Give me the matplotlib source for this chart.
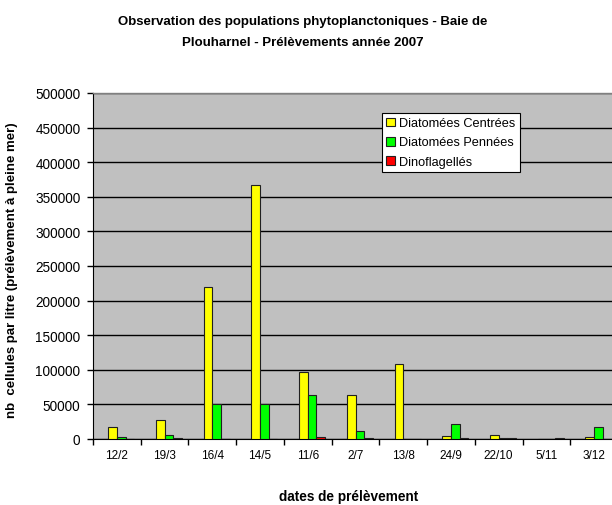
import matplotlib
matplotlib.use("Agg")
import matplotlib.pyplot as plt
import numpy as np

plt.rcParams['font.family'] = ['Liberation Sans', 'DejaVu Sans']

dates = ["12/2", "19/3", "16/4", "14/5", "11/6", "2/7", "13/8", "24/9", "22/10", "5/11", "3/12"]
centrees = [18000, 28000, 220000, 367000, 97000, 63000, 108000, 5000, 6000, 0, 3000]
pennees = [3000, 6000, 50000, 50000, 63000, 12000, 0, 21000, 1000, 0, 18000]
dinoflag = [500, 1500, 0, 0, 2500, 1000, 0, 1500, 1000, 1000, 0]
series_names = ["Diatomées Centrées", "Diatomées Pennées", "Dinoflagellés"]
colors = ["#FFFF00", "#00FF00", "#FF0000"]

fig = plt.figure(figsize=(6.12, 5.06), dpi=100)
ax = fig.add_axes([93/612, 66/506, 525/612, 346/506])
ax.set_facecolor("#C0C0C0")

x = np.arange(len(dates))
w = 1/5.5
offsets = [-0.5*w, 0.5*w, 1.5*w]
for vals, off, c, name in zip([centrees, pennees, dinoflag], offsets, colors, series_names):
    ax.bar(x + off, vals, width=w, color=c, edgecolor="#202020", linewidth=0.8, label=name, zorder=3)

ax.set_xlim(-0.5, len(dates) - 0.5)
ax.set_ylim(0, 500000)
ax.set_yticks(np.arange(0, 500001, 50000))
ax.yaxis.grid(True, color="black", linewidth=1.0, zorder=1)
ax.set_axisbelow(True)

ax.set_xticks(x)
ax.set_xticklabels(dates, fontsize=8.5)
ax.set_xticks(np.arange(-0.5, len(dates) + 0.5, 1), minor=True)
ax.tick_params(axis='x', which='major', length=0, pad=7)
ax.tick_params(axis='x', which='minor', length=4, direction='out', width=1)
ax.tick_params(axis='y', labelsize=9.8, length=4, direction='out', width=1, pad=5)

for s in ["top", "right"]:
    ax.spines[s].set_color("#808080")
    ax.spines[s].set_linewidth(1.0)
ax.spines["left"].set_color("black")
ax.spines["bottom"].set_color("black")

ax.set_ylabel("nb  cellules par litre (prélèvement à pleine mer)", fontsize=9.5, fontweight='bold')
ax.yaxis.set_label_coords((18-93)/525, (440-270)/346)

fig.text(303/612, 1 - 33/506, "Observation des populations phytoplanctoniques - Baie de\nPlouharnel - Prélèvements année 2007",
         ha='center', va='center', fontsize=9.5, fontweight='bold', linespacing=2.0)
fig.text(349/612, 1 - 497/506, "dates de prélèvement", ha='center', va='center', fontsize=9.8, fontweight='bold')

leg = ax.legend(loc='upper left', bbox_to_anchor=((382-93)/525, (440-114)/346), fontsize=9.2,
                frameon=True, fancybox=False, edgecolor='black', framealpha=1,
                handlelength=0.7, handleheight=0.7, handletextpad=0.3, borderpad=0.35,
                labelspacing=0.55, borderaxespad=0)
leg.get_frame().set_linewidth(0.8)

fig.savefig("out.png", dpi=100)
